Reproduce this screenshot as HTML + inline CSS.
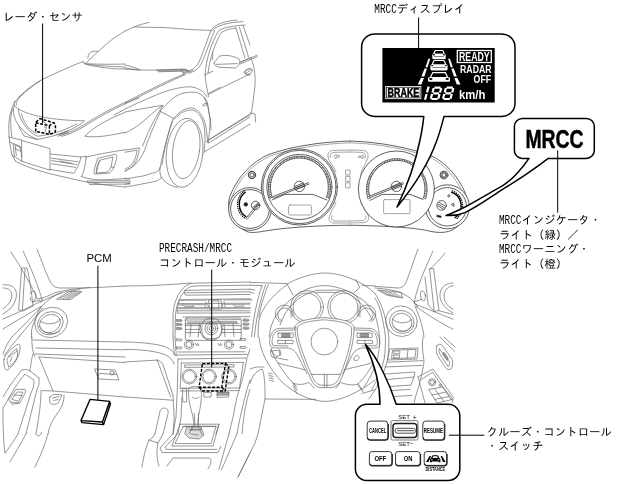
<!DOCTYPE html>
<html><head><meta charset="utf-8"><title>MRCC</title>
<style>
html,body{margin:0;padding:0;background:#fff;}
svg{display:block;will-change:transform;}
.t{font-family:"Liberation Mono","IPAGothic","Noto Sans CJK JP",monospace;font-size:11.4px;fill:#000;}
.m{font-family:"Liberation Mono",monospace;font-size:13.4px;fill:#000;}
.a{font-family:"Liberation Sans","IPAGothic",sans-serif;fill:#000;}
.g{fill:none;stroke:#686868;stroke-width:0.7;vector-effect:non-scaling-stroke;stroke-linecap:round;stroke-linejoin:round;}
.k{fill:none;stroke:#3a3a3a;stroke-width:0.8;vector-effect:non-scaling-stroke;stroke-linecap:round;stroke-linejoin:round;}
.g *,.k *{vector-effect:non-scaling-stroke;}
.b{fill:#fff;stroke:#000;stroke-width:1.5;stroke-linejoin:round;}
.l{fill:none;stroke:#000;stroke-width:1;}
.d{fill:none;stroke:#000;stroke-width:1.3;stroke-dasharray:3 1.5;}
</style></head>
<body>
<svg width="625" height="484" viewBox="0 0 625 484">
<rect width="625" height="484" fill="#fff"/>
<g class="g" transform="translate(0,0) scale(0.20000)">
<path d="M95,484 C130,450 170,420 210,398 C300,355 380,320 415,308"/>
<path d="M100,484 C130,455 165,428 200,405"/>
<path d="M415,308 L428,318 C470,275 520,228 570,190 L625,155"/>
<path d="M440,292 C436,270 455,248 490,258"/>
<path d="M420,318 C500,322 560,322 625,320"/>
<path d="M428,322 C500,338 570,346 625,345"/>
<path d="M440,322 C500,330 560,332 625,335"/>
</g>
<g class="g" transform="translate(125,0) scale(0.20000)">
<path d="M0,155 C40,135 80,120 120,112"/>
<path d="M50,135 L200,138 L330,148 L430,152"/>
<path d="M430,152 C415,190 395,250 370,310 C355,340 325,358 290,364"/>
<path d="M430,152 C450,120 500,105 560,100"/>
<path d="M440,150 C460,128 510,112 590,108"/>
<path d="M448,152 C430,195 405,265 382,318 C368,345 345,358 320,366"/>
<path d="M400,375 C405,300 430,215 470,152 C500,135 550,128 600,125"/>
<path d="M415,366 C422,300 448,220 482,162 C505,148 535,142 555,140"/>
<path d="M555,140 L600,290"/>
<path d="M572,136 L618,286"/>
<path d="M590,128 L625,225"/>
<path d="M445,315 L470,282 C490,274 535,274 570,295 C580,310 570,332 552,340 L470,336 C455,334 445,326 445,315 Z"/>
<path d="M456,322 L562,318"/>
<path d="M436,300 C440,280 440,270 436,262"/>
<path d="M400,374 L440,356"/>
<path d="M575,312 L625,290"/>
<path d="M598,360 C605,348 615,343 625,343"/>
<path d="M598,362 C605,372 615,376 625,375"/>
<path d="M400,375 C402,410 412,450 418,484"/>
<path d="M420,470 C500,430 560,402 625,370"/>
<path d="M0,325 C30,330 55,340 75,350"/>
<path d="M0,345 C60,352 150,352 280,348 L318,353"/>
<path d="M160,350 L300,345 L320,355 L170,359 Z" style="fill:#aaa"/>
<path d="M0,340 L70,350"/>
<path d="M280,348 L295,372"/>
<path d="M0,512 C60,482 150,434 250,389 L340,352"/>
<path d="M0,520 C60,490 150,442 250,396 L300,374"/>
<path d="M-55,575 C0,545 40,525 75,510 C125,488 175,465 225,450 C270,438 310,432 335,435 C365,440 390,455 400,470 L410,484"/>
</g>
<g class="g" transform="translate(0,97) scale(0.20000)">
<path d="M95,0 C80,15 70,30 72,42 C100,75 170,95 260,108 C320,115 380,120 420,118"/>
<path d="M100,0 C85,18 80,30 82,40"/>
<path d="M75,20 C55,60 42,110 44,160 C45,200 50,250 60,290 L78,322"/>
<path d="M62,60 C50,100 52,150 60,200"/>
<path d="M72,42 C60,70 70,110 95,145 C120,175 150,198 185,212 C240,205 300,185 350,165 C380,150 405,135 420,122"/>
<path d="M92,62 C95,100 115,140 150,172 C165,186 180,194 192,196 C240,190 290,176 330,160 L385,135"/>
<path d="M108,85 C115,120 135,150 160,170 L182,182"/>
<path d="M185,212 L120,195 L95,150"/>
<path d="M280,190 L330,172 M290,196 L345,176 M300,186 L340,170"/>
<path d="M625,27 C560,56 500,88 450,120 C410,147 360,176 300,192"/>
<path d="M625,35 C560,64 505,95 455,126 C415,152 365,182 310,197"/>
<path d="M625,77 C570,98 520,124 480,150 C455,167 435,182 425,196"/>
<path d="M425,196 C470,204 540,196 625,176"/>
<path d="M44,200 L110,216"/>
<path d="M50,226 L100,246 L110,300"/>
<path d="M110,218 L250,258 L250,366 L110,322 Z"/>
<path d="M250,285 L405,300 C400,330 385,360 368,382 L250,362"/>
<path d="M256,306 L392,324 M258,318 L385,338 M258,334 L378,352 M300,320 C320,326 340,326 360,332"/>
<path d="M75,240 L105,255 M75,258 L105,272 M76,244 L82,292 M66,236 L72,300"/>
<path d="M78,322 C150,360 250,385 330,402 C400,420 500,440 625,450"/>
<path d="M60,290 L110,322"/>
<path d="M405,300 L432,296"/>
<path d="M430,300 C500,284 570,272 625,264"/>
<path d="M430,300 C428,340 420,375 408,398"/>
<path d="M408,398 C440,410 480,416 530,414 L625,408"/>
<path d="M436,420 L641,418 L650,435 L450,438 Z"/>
<path d="M450,428 L640,426"/>
<path d="M490,306 L578,286 C586,290 586,300 582,312 L570,350 C562,368 552,378 545,380 L472,386 C468,380 470,365 475,350 Z"/>
<path d="M500,316 L565,300 L555,350 C548,365 540,374 535,376 L483,380 Z"/>
<path d="M482,380 C478,360 490,330 500,316"/>
<path d="M555,350 L570,352"/>
<path d="M222,150 L232,150 L226,176 M212,118 L232,135"/>
</g>
<g class="g" transform="translate(125,97) scale(0.20000)">
<ellipse cx="298" cy="279" rx="91" ry="173" transform="rotate(6 298 279)"/>
<ellipse cx="306" cy="263" rx="67" ry="146" transform="rotate(8 306 263)"/>
<path d="M240,112 C270,72 305,52 335,55 C370,60 395,100 405,150 C410,185 412,210 415,230"/>
<path d="M250,108 C280,75 310,62 338,66 C370,72 390,110 398,160 C402,200 400,240 395,276"/>
<path d="M236,120 C215,180 195,270 185,340"/>
<path d="M0,30 L70,5"/>
<path d="M0,75 C70,62 130,50 188,42"/>
<path d="M0,180 C50,160 100,115 150,70 L188,42"/>
<path d="M190,42 C165,80 125,150 100,215 L88,245"/>
<path d="M178,72 L245,108"/>
<path d="M178,72 C150,130 120,200 100,260 C85,300 60,335 35,350 L0,372"/>
<path d="M240,112 C215,180 190,280 176,350 C172,375 176,390 182,402"/>
<path d="M182,402 C195,425 225,445 262,452"/>
<path d="M176,352 C170,368 160,374 150,377 L90,395 L0,410"/>
<path d="M182,402 C170,415 160,420 150,422 L60,440 L0,450"/>
<path d="M0,265 L72,255 C70,280 62,310 48,335 C35,352 18,362 0,370"/>
<path d="M0,276 L60,266 C58,290 50,312 40,330 C30,345 15,354 0,360"/>
<path d="M0,405 L22,413 C28,420 26,428 20,432 L0,436"/>
<ellipse cx="400" cy="38" rx="12" ry="5" transform="rotate(-20 400 38)"/>
<path d="M395,0 C410,30 422,70 425,110 C426,150 420,200 415,228"/>
<path d="M415,216 L625,85"/>
<path d="M418,230 L625,100"/>
<path d="M395,276 L625,136"/>
<path d="M408,222 L625,90"/>
</g>
<g class="g" transform="translate(210,10) scale(0.20000)">
<path d="M205,240 C222,280 228,330 225,380 L212,484 L206,520"/>
<ellipse cx="192" cy="308" rx="20" ry="13" transform="rotate(-25 192 308)"/>
<path d="M178,318 L205,298"/>
<path d="M150,262 L235,226 M152,270 L236,233"/>
<path d="M200,515 L225,520 L228,560"/>
</g>
<g class="g" transform="translate(0,0) scale(1.00000)">
<path d="M160,111 C163,107.5 166,105 166.2,104.8 C169,101.5 172,99 175.5,96.5 C179,94.3 183,93 186.9,92.4 C190,92 193,92 196.2,92.4 C199,93.2 201.5,94.8 203.4,96.5 C205.3,98.5 206.7,100.5 207.5,102.7 C208.2,105.5 208.4,108 208.6,111 L210.6,121.3 L211,130"/>
<path d="M208.5,93.6 L220,87.4"/>
</g>
<!--CAR-->
<g class="k" transform="translate(225,140) scale(0.20000)">
<path d="M625,5 C480,10 340,30 220,72 C130,110 60,190 25,280 C5,340 30,420 110,458 C130,466 160,462 200,455 C300,438 450,428 625,426"/>
<path d="M625,14 C485,19 345,39 226,80 C138,118 70,195 36,282 C18,338 42,410 115,448" style="stroke:#808080;stroke-width:0.7"/>
<circle cx="125" cy="345" r="107" style="fill:#fff"/>
<circle cx="125" cy="345" r="97"/>
<path d="M103,260 A75,75 0 0 0 107,385" style="vector-effect:none;stroke-width:7;stroke:#000;stroke-linecap:butt"/>
<path d="M97,254 A84,84 0 0 0 101,392" style="vector-effect:none;stroke-width:6;stroke-dasharray:2 9;stroke:#000"/>
<circle cx="153" cy="327" r="21"/>
<path d="M104,392 L165,318 M111,396 L172,323"/>
<path d="M138,338 L166,314 M143,344 L171,320"/>
<circle cx="104" cy="322" r="9" style="fill:#111"/>
<circle cx="372" cy="235" r="190" style="fill:#fff"/>
<circle cx="372" cy="235" r="183"/>
<circle cx="372" cy="235" r="163"/>
<path d="M232,290 A150,150 0 1 1 512,290" style="vector-effect:none;stroke-width:8;stroke:#000;stroke-dasharray:2.5 6;stroke-linecap:butt"/>
<path d="M237,288 A145,145 0 1 1 507,288" />
<path d="M226,292 A156,156 0 1 1 518,292" />
<path d="M235,300 L300,272 L440,272 L510,300"/>
<path d="M240,283 L418,213 M243,290 L421,220"/>
<circle cx="372" cy="232" r="26"/>
<path d="M352,240 L395,222 M355,248 L398,230 M350,232 L390,215"/>
<rect x="318" y="325" width="114" height="50" rx="8" style="stroke:#808080;stroke-width:0.7"/>
<circle cx="135" cy="175" r="18"/>
<circle cx="135" cy="175" r="10"/>
<path d="M135,157 A18,18 0 1 1 134,157" style="vector-effect:none;stroke-width:5;stroke-dasharray:3 4"/>
<path d="M625,50 L535,52 C520,55 512,68 515,85 C520,110 545,130 555,160" style="stroke:#808080;stroke-width:0.7"/>
<path d="M625,60 L540,62 C528,65 524,75 526,88" style="stroke:#808080;stroke-width:0.7"/>
<path d="M545,82 L555,72 L555,78 L572,78 L572,86 L555,86 L555,92 Z" style="stroke:#808080;stroke-width:0.7"/>
<rect x="605" y="150" width="20" height="25" style="stroke:#808080;stroke-width:0.7"/>
<rect x="605" y="182" width="20" height="25" style="stroke:#808080;stroke-width:0.7"/>
<rect x="605" y="214" width="20" height="25" style="stroke:#808080;stroke-width:0.7"/>
<path d="M625,415 L540,415 C520,410 515,395 525,375 C535,350 550,330 555,310" style="stroke:#808080;stroke-width:0.7"/>
<path d="M625,405 L545,405 C532,400 530,390 535,378" style="stroke:#808080;stroke-width:0.7"/>
</g>
<g class="k" transform="translate(350,140) scale(0.20000)">
<path d="M0,5 C150,10 300,38 420,85 C500,130 560,210 585,290 C600,350 570,420 510,450 C480,465 440,465 400,456 C340,440 200,430 0,426"/>
<path d="M0,14 C150,19 295,46 412,92 C490,136 548,212 573,292" style="stroke:#808080;stroke-width:0.7"/>
<circle cx="487" cy="334" r="110" style="fill:#fff"/>
<circle cx="487" cy="334" r="96"/>
<path d="M506,260 A73,73 0 0 1 523,390" style="vector-effect:none;stroke-width:7;stroke:#000;stroke-linecap:butt"/>
<path d="M512,254 A82,82 0 0 1 530,396" style="vector-effect:none;stroke-width:6;stroke-dasharray:2 9;stroke:#000"/>
<circle cx="458" cy="327" r="24"/>
<path d="M441,320 L474,340 M438,328 L470,348 M446,312 L478,332"/>
<path d="M488,278 L496,272 M492,286 L500,280 M490,282 L498,276"/>
<path d="M508,322 L518,316 L520,330 Z"/>
<path d="M436,376 L456,381 L455,388 L435,383 Z" style="fill:#000"/>
<circle cx="232" cy="245" r="190" style="fill:#fff"/>
<path d="M96,292 A146,146 0 1 1 372,292" style="vector-effect:none;stroke-width:8;stroke:#000;stroke-dasharray:2.5 6;stroke-linecap:butt"/>
<path d="M101,290 A141,141 0 1 1 367,290"/>
<path d="M90,294 A152,152 0 1 1 378,294"/>
<path d="M100,302 L160,272 L300,272 L365,297"/>
<path d="M100,280 L265,212 M103,287 L268,219"/>
<circle cx="232" cy="232" r="26"/>
<path d="M212,240 L255,222 M215,248 L258,230 M210,232 L250,215"/>
<rect x="168" y="298" width="132" height="70" rx="4" style="stroke:#808080;stroke-width:0.7"/>
<circle cx="470" cy="175" r="20"/>
<circle cx="470" cy="175" r="10"/>
<path d="M470,160 A15,15 0 1 1 469,160" style="vector-effect:none;stroke-width:5;stroke-dasharray:3 4"/>
<path d="M0,50 L68,52 C88,56 94,70 88,92 C80,120 60,140 52,175" style="stroke:#808080;stroke-width:0.7"/>
<path d="M0,60 L62,62 C76,66 80,76 76,90" style="stroke:#808080;stroke-width:0.7"/>
<path d="M45,80 L62,80 L62,74 L72,84 L62,94 L62,88 L45,88 Z" style="stroke:#808080;stroke-width:0.7"/>
<path d="M0,415 L70,413 C92,408 98,394 90,376 C80,355 65,335 58,315" style="stroke:#808080;stroke-width:0.7"/>
<path d="M0,405 L64,403 C78,400 82,390 78,380" style="stroke:#808080;stroke-width:0.7"/>
</g>
<!--CLUSTER-->
<g class="g" transform="translate(0,240) scale(0.20000)">
<path d="M55,60 C100,130 150,210 185,290"/>
<path d="M115,55 C160,150 195,240 210,300"/>
<path d="M185,45 C210,110 235,180 255,215 C265,232 280,240 300,240 L400,240 C480,238 560,234 625,230"/>
<path d="M110,140 L135,140 C145,180 158,260 165,330 L115,355 L95,350 Z"/>
<path d="M125,145 L112,350"/>
<path d="M150,268 C158,254 172,252 178,264 C184,280 176,300 165,310 C155,308 150,298 152,288"/>
<path d="M165,310 L200,300"/>
<path d="M15,225 C40,222 62,226 75,245 C90,270 82,310 50,345 L15,370"/>
<path d="M15,240 C35,240 52,246 58,265 C64,290 50,320 15,345"/>
<path d="M185,295 C220,292 250,275 280,262 C330,248 400,242 450,238"/>
<path d="M200,312 C240,290 290,268 330,258 L400,248"/>
<path d="M15,395 C80,368 150,335 215,300"/>
<path d="M15,445 C80,405 150,365 205,332"/>
<path d="M60,484 C110,435 170,375 220,320 C245,295 275,275 305,264"/>
<path d="M95,484 C140,430 185,375 215,340"/>
<path d="M285,295 L345,258 L410,258 L355,297 Z"/>
<path d="M300,292 L358,262 M315,294 L372,262 M330,295 L386,262 M342,296 L398,262"/>
<ellipse cx="256" cy="412" rx="84" ry="74" transform="rotate(-25 256 412)"/>
<ellipse cx="252" cy="416" rx="66" ry="56" transform="rotate(-25 252 416)"/>
<ellipse cx="250" cy="418" rx="54" ry="44" transform="rotate(-25 250 418)"/>
<path d="M200,405 C225,425 275,425 300,400"/>
<path d="M196,430 C215,470 270,480 300,455"/>
<path d="M60,484 C40,510 25,540 15,570"/>
<path d="M95,484 C65,520 40,550 20,580"/>
<path d="M205,335 C185,370 165,420 158,450 L157,490"/>
</g>
<g class="g" transform="translate(0,387) scale(0.20000)">
<path d="M130,234 C100,290 70,340 50,375"/>
<path d="M90,234 C70,270 45,305 25,330"/>
<path d="M15,100 C14,200 18,280 25,330"/>
<path d="M180,234 C186,252 200,248 208,226"/>
<path d="M240,234 C225,290 200,350 175,400"/>
</g>
<g class="g" transform="translate(125,387) scale(0.20000)">
<path d="M275,186 L235,295 L440,295 L470,186"/>
<path d="M290,198 L250,283 L430,283 L455,198 Z"/>
<path d="M240,234 L175,305 L185,328 L465,328 L480,296"/>
<path d="M265,234 L200,300 L207,312 L458,312"/>
<path d="M310,200 L380,200 L395,240 L370,260 L320,255 L300,235 Z" style="fill:#ddd"/>
<path d="M320,215 L375,215 L385,240 M330,235 L365,240"/>
<path d="M346,130 L350,200 M368,130 L366,200"/>
<path d="M520,234 L470,410 M560,234 L482,415"/>
<path d="M625,330 L565,450"/>
<path d="M210,395 L240,355 L420,355 C432,360 436,374 415,410"/>
<path d="M150,234 C140,252 130,262 120,265 C105,300 92,350 85,400"/>
<path d="M190,234 L165,280 L120,265"/>
<path d="M165,280 C155,320 160,360 170,395"/>
</g>
<g class="g" transform="translate(0,0) scale(1.00000)">
<path d="M375,293.6 C380,300 384,312 386.9,324.8 C388.5,332 389.2,337 388.9,341.3 C388.8,348 388.5,353 387.9,357.9 C386.5,364 385,369 382.7,374.4 C380,381 377.5,386 374.5,391 L369,399"/>
<path d="M375,298 C379,304 381.5,313 383.6,324.8 C385,332 385.7,337 385.4,341.3 C385.3,348 385,353 384.4,357.9 C383,364 381.5,369 379.4,374.4 C377,380 374.5,385 371.5,390"/>
<path d="M375,314.4 C376.2,318 377,321 377.6,324.8 C379,331 379.8,336 379.6,341.3 C379.5,347 378.8,353 377.6,357.9 C376,364 374,369 371.4,374.4 C369,379 367,383 364,386.8"/>
</g>
<g class="g" transform="translate(125,240) scale(0.20000)">
<path d="M0,230 L130,228 L250,221 L330,215"/>
<path d="M240,484 L240,380 C242,330 255,280 290,242 C305,226 320,218 340,216 L625,210"/>
<path d="M250,484 L252,380 C255,335 268,290 298,256 C310,240 325,232 345,230 L625,226"/>
<path d="M300,252 L625,246 M303,264 L625,259"/>
<path d="M300,252 C295,260 296,270 303,276 L625,272"/>
<path d="M275,298 L625,294 M268,318 L625,316 M264,338 L625,338 M262,354 L625,354"/>
<path d="M275,298 C262,320 258,345 262,366 L625,364"/>
<path d="M290,324 L335,322 L345,332 L300,334 Z"/>
<path d="M540,322 L585,320 L595,330 L550,332 Z"/>
<path d="M420,300 L480,298 L485,345 L425,347 Z"/>
<path d="M435,305 L468,304 L470,340 L438,341 Z"/>
<path d="M405,310 C398,320 398,335 408,345 M495,308 C503,318 503,332 495,342"/>
<path d="M412,318 L418,340 M490,316 L486,338"/>
<path d="M290,385 L625,383"/>
<path d="M300,400 L575,398 M312,410 L560,408 M312,416 L560,414"/>
<rect x="255" y="398" width="30" height="10" rx="5"/>
<rect x="255" y="418" width="30" height="10" rx="5"/>
<rect x="255" y="438" width="30" height="10" rx="5"/>
<rect x="590" y="396" width="30" height="10" rx="5"/>
<rect x="590" y="416" width="30" height="10" rx="5"/>
<rect x="590" y="436" width="30" height="10" rx="5"/>
<circle cx="432" cy="442" r="32"/>
<circle cx="432" cy="442" r="22"/>
<circle cx="432" cy="442" r="11"/>
<path d="M330,420 L325,484 M372,420 L366,484 M495,420 L500,484 M540,420 L545,484"/>
<path d="M300,420 L570,418"/>
<path d="M385,430 C380,450 385,470 395,484 M480,430 C486,450 482,470 472,484"/>
<path d="M272,301 L405,300 M495,299 L625,298 M268,323 L405,322 M495,321 L625,320 M264,342 L625,341" style="stroke:#aaa;stroke-width:1.6"/>
<circle cx="431" cy="446" r="56"/>
<path d="M302,428 L378,428 M484,428 L581,428"/>
<path d="M302,447 L374,447 M488,447 L581,447"/>
<path d="M302,463 L378,463 M484,463 L581,463"/>
<rect x="302" y="390" width="279" height="112" rx="8"/>
<path d="M257,403 L283,403 M257,423 L283,423 M257,443 L283,443 M592,401 L618,401 M592,421 L618,421 M592,441 L618,441" style="stroke:#999;stroke-width:1.4"/>
</g>
<g class="g" transform="translate(250,240) scale(0.20000)">
<path d="M0,212 L100,215 L185,218"/>
<path d="M0,226 L60,228"/>
<path d="M60,226 C35,300 15,400 8,484"/>
<path d="M78,224 C50,300 30,400 22,484"/>
<path d="M92,222 C65,290 48,350 45,385"/>
<path d="M0,246 L25,250 M0,262 L20,266 M0,298 L12,300"/>
<path d="M40,484 C40,455 42,425 45,400 C60,340 110,275 200,212 C260,182 320,166 375,165 C450,166 530,195 600,245 L625,268"/>
<path d="M96,484 C98,460 102,440 110,420 C130,360 190,295 285,245 C320,232 350,228 375,228 C440,230 520,260 585,318 L625,372"/>
<path d="M185,220 L215,275 M530,198 L548,238 L520,264"/>
<path d="M150,425 C175,345 235,280 330,252 L445,250 C520,272 580,330 612,400"/>
<circle cx="285" cy="335" r="82"/>
<circle cx="285" cy="335" r="70"/>
<circle cx="470" cy="335" r="82"/>
<circle cx="470" cy="335" r="70"/>
<path d="M215,382 A45,45 0 1 0 150,410"/>
<path d="M205,385 A34,34 0 1 0 160,405"/>
<path d="M540,382 A45,45 0 1 1 605,410"/>
<path d="M550,385 A34,34 0 1 1 595,405"/>
<path d="M330,262 L440,262"/>
<path d="M560,226 L625,230"/>
</g>
<g class="g" transform="translate(375,240) scale(0.20000)">
<path d="M215,45 C195,100 175,160 158,205 C148,230 135,240 115,240 L0,232"/>
<path d="M290,55 C260,120 225,200 208,262 L196,310"/>
<path d="M350,65 C325,95 300,125 275,145"/>
<path d="M275,143 L293,143 L320,352 L298,358 Z"/>
<path d="M250,185 L266,325 L298,358"/>
<ellipse cx="240" cy="280" rx="12" ry="25" transform="rotate(-8 240 280)"/>
<path d="M196,310 L230,298"/>
<path d="M390,215 C365,215 340,225 328,255 C318,290 330,330 390,365"/>
<path d="M390,228 C370,230 352,245 346,270 C342,300 355,328 390,346"/>
<path d="M200,320 C260,345 330,372 390,396"/>
<path d="M205,332 C270,380 330,415 390,446"/>
<path d="M196,310 L212,334"/>
<path d="M320,354 L390,372"/>
<path d="M15,250 L130,262 L138,290 L62,276 Z"/>
<path d="M30,254 L80,280 M50,256 L98,283 M70,258 L116,286 M92,260 L132,288"/>
<path d="M0,240 C60,244 110,254 140,268 C170,284 190,300 200,320"/>
<path d="M200,330 C225,385 240,440 245,484"/>
<ellipse cx="132" cy="406" rx="80" ry="76" transform="rotate(20 132 406)"/>
<ellipse cx="134" cy="410" rx="62" ry="57" transform="rotate(20 134 410)"/>
<ellipse cx="135" cy="412" rx="50" ry="45" transform="rotate(20 135 412)"/>
<path d="M88,395 C110,420 160,420 182,398"/>
<path d="M92,430 C115,465 165,462 180,435"/>
</g>
<g class="g" transform="translate(0,337) scale(0.20000)">
<path d="M165,15 L625,25 M180,55 L625,64 M175,85 L625,100"/>
<path d="M160,0 C158,40 162,75 175,100"/>
<path d="M195,100 L625,128"/>
<path d="M195,100 L265,270 L625,300"/>
<path d="M475,160 L575,165 L595,215 L495,210 Z"/>
<path d="M488,196 L500,182 L582,188"/>
<circle cx="560" cy="180" r="10"/>
<path d="M20,112 C25,90 50,60 90,36 C100,34 102,45 100,60 C98,95 70,140 40,165 C25,170 18,150 20,112 Z"/>
<path d="M35,115 C40,95 60,72 85,58 L88,95 C80,118 62,140 45,150 Z"/>
<path d="M45,100 L85,70 M50,125 L60,100"/>
<path d="M15,300 C40,255 80,200 110,165 C125,160 140,162 150,170 L195,205"/>
<path d="M195,205 C198,230 192,250 185,262 L130,484"/>
<path d="M20,350 C50,290 90,225 125,185 L170,215 C172,240 165,260 155,280 L90,484"/>
<path d="M45,312 L80,262 L125,262 L128,275 L100,330 L62,336 Z"/>
<path d="M60,310 L86,275 L115,276 L95,320 Z"/>
<path d="M55,325 L95,330 M70,290 L110,292"/>
<path d="M150,170 C155,130 160,100 165,85"/>
<path d="M205,270 C205,330 195,400 180,484"/>
<path d="M208,268 L265,270"/>
<path d="M250,300 C258,288 275,284 310,290 L292,328 C280,338 262,340 252,332 C246,322 246,310 250,300 Z"/>
<path d="M262,305 L295,298 M268,318 L290,312"/>
<path d="M320,290 C322,320 310,350 285,385 C262,415 245,450 240,484"/>
<path d="M450,312 L548,322 L552,335 L518,438 L410,428 L405,418 Z M548,322 L512,425 L408,418 M512,425 L518,438" style="stroke:#000;stroke-width:1.4;fill:#fff"/>
</g>
<g class="g" transform="translate(125,337) scale(0.20000)">
<circle cx="320" cy="38" r="23"/>
<circle cx="320" cy="38" r="15"/>
<circle cx="520" cy="38" r="23"/>
<circle cx="520" cy="38" r="15"/>
<path d="M240,0 L246,92 M250,0 L256,86"/>
<path d="M265,75 L600,74 M256,90 L612,87"/>
<rect x="255" y="10" width="30" height="9" rx="4"/>
<rect x="255" y="50" width="30" height="9" rx="4"/>
<rect x="575" y="8" width="30" height="9" rx="4"/>
<rect x="575" y="48" width="30" height="9" rx="4"/>
<path d="M352,32 L358,44 L364,32 L370,44 M466,32 L472,44 L478,32 L484,44"/>
<path d="M390,0 C400,12 460,12 472,0"/>
<path d="M625,60 L612,100"/>
<path d="M265,110 L610,105 C600,170 580,240 560,300 L540,400 L520,484"/>
<path d="M265,110 L262,250 L255,400 L240,484"/>
<path d="M280,130 L592,127 M282,130 L276,256 M592,127 L572,255"/>
<path d="M300,140 L545,138 L545,150 L300,152 Z"/>
<path d="M276,256 L572,255 M276,270 L568,268"/>
<circle cx="322" cy="198" r="37"/><circle cx="322" cy="198" r="30"/>
<circle cx="420" cy="198" r="37"/><circle cx="420" cy="198" r="30"/>
<circle cx="520" cy="198" r="37"/><circle cx="520" cy="198" r="30"/>
<path d="M395,278 L432,278 L430,300 L397,300 Z"/>
<path d="M462,276 L520,275 L518,300 L462,302 Z"/>
<path d="M464,278 L518,277 L517,290 L464,291 Z" style="fill:#aaa"/>
<path d="M290,258 L308,258 L308,325 L290,325 Z"/>
<path d="M320,255 C330,245 365,245 378,252 C388,290 378,350 368,390 L364,440"/>
<path d="M320,255 C312,290 325,350 338,390 L346,440"/>
<path d="M335,300 C345,310 360,310 370,300"/>
<path d="M275,436 L470,436 L455,484 M290,448 L455,448"/>
<path d="M330,462 L380,462 M320,484 L340,450 M345,440 L330,462 M364,440 L380,462"/>
<path d="M285,300 L280,400 L265,484"/>
<path d="M625,215 C605,270 585,360 570,430 L560,484"/>
<path d="M625,262 C605,320 592,400 585,484"/>
<path d="M0,25 C70,26 140,32 190,45 C220,55 245,75 256,95"/>
<path d="M0,62 C80,62 150,70 200,88 C225,100 240,118 246,135"/>
<path d="M0,125 L150,116 C170,116 182,122 190,138 L240,292"/>
<path d="M160,112 L228,300"/>
<path d="M0,300 L240,316"/>
<path d="M240,292 L246,400 L240,484"/>
<path d="M150,484 L175,372 C180,356 195,352 208,358 C216,364 218,374 214,388 L190,484"/>
</g>
<g class="g" transform="translate(250,337) scale(0.20000)">
<path d="M45,0 C50,70 90,150 160,225 C230,290 310,322 380,322 C450,320 540,280 625,215"/>
<path d="M215,245 L235,285 M540,240 L565,275"/>
<path d="M0,160 L30,150 L70,150"/>
<path d="M0,232 C10,195 30,170 60,160 C72,180 76,240 75,310 L40,484 L25,530 L-60,700"/>
<path d="M75,310 L330,312"/>
<path d="M92,180 L112,186 M94,192 L114,198 M96,204 L116,210 M98,216 L118,222"/>
<path d="M560,282 L625,264"/>
</g>
<g class="g" transform="translate(260,300) scale(0.20000)">
<path d="M175,135 C180,112 215,95 320,88 C425,95 462,112 470,135 C472,190 455,270 410,385 C398,415 385,432 360,438 L300,438 C275,432 262,415 250,385 C200,270 172,190 175,135 Z" style="fill:#fff"/>
<circle cx="322" cy="208" r="67"/>
<path d="M186,140 C190,122 225,106 320,99 C415,106 452,122 458,140 C460,190 444,268 400,378 C390,405 378,420 356,426 L304,426 C282,420 270,405 260,378 C212,268 184,190 186,140 Z"/>
<path d="M322,372 L322,436 M335,372 L335,436"/>
<path d="M178,140 L95,142 C75,145 62,155 55,175 C45,200 45,225 58,236 C65,240 75,240 140,240 C160,242 175,255 190,280 L235,370"/>
<path d="M172,150 L100,152 C82,155 72,162 66,178 C58,200 58,220 66,228 L140,230"/>
<rect x="90" y="165" width="76" height="23" rx="3"/>
<rect x="110" y="168" width="40" height="17" style="fill:#999"/>
<rect x="88" y="202" width="78" height="16" rx="3"/>
<path d="M127,202 L127,218"/>
<path d="M470,140 L550,142 C570,145 583,155 590,175 C602,200 604,225 590,236 C582,240 572,242 510,240 C488,242 472,255 458,280 L415,370"/>
<path d="M474,150 L546,152 C564,155 574,162 580,178 C588,200 590,220 582,228 L510,230"/>
<rect x="485" y="165" width="76" height="23" rx="3"/>
<rect x="502" y="168" width="40" height="17" style="fill:#999"/>
<rect x="485" y="202" width="78" height="16" rx="3"/>
<path d="M524,202 L524,218"/>
<path d="M60,255 L100,250 L105,275 L82,282 Z M95,255 L98,272"/>
<path d="M470,290 C475,275 495,272 495,288 C495,302 480,308 472,302 Z"/>
<path d="M60,240 C50,250 50,270 60,285 L140,300"/>
<path d="M256,372 L402,372"/>
<path d="M55,245 C65,275 75,295 90,315 C110,350 140,390 165,415 L185,435"/>
<path d="M165,415 L185,452"/>
<path d="M165,415 C185,425 215,425 245,412 L270,440"/>
<path d="M490,420 C470,428 440,426 402,412 L380,440"/>
<path d="M490,420 C515,395 545,360 575,300"/>
<path d="M490,420 L515,452"/>
<path d="M90,315 C130,330 180,335 225,350"/>
<path d="M555,315 C515,330 465,335 420,350"/>
</g>
<g class="g" transform="translate(375,337) scale(0.20000)">
<path d="M75,60 L215,55 L210,110 L65,115 Z"/>
<path d="M90,66 L205,62 L200,104 L84,108 Z"/>
<rect x="96" y="70" width="28" height="14"/>
<rect x="94" y="90" width="28" height="14"/>
<path d="M165,64 L160,106"/>
<path d="M60,126 L240,118 M50,150 L236,142"/>
<path d="M40,186 L200,175 L195,200 L48,214"/>
<path d="M45,250 L180,240 L195,200 M48,270 L176,262"/>
<path d="M240,0 C232,40 240,80 245,120 C242,160 225,230 205,290 L195,330"/>
<path d="M60,300 L185,292"/>
<path d="M310,42 C318,34 328,34 336,42 L386,112 C390,130 388,150 380,160 C370,166 358,162 352,152 L312,92 C306,75 304,55 310,42 Z"/>
<path d="M322,60 L372,122 C375,135 372,145 366,148 L328,92 C320,80 318,68 322,60 Z"/>
<path d="M345,78 L366,106 L362,118 L340,90 Z" style="fill:#999"/>
<path d="M325,0 L398,72 M345,0 L400,50"/>
<path d="M215,200 L290,160 L392,302 L385,330"/>
<path d="M232,212 L288,176 L380,312"/>
<circle cx="286" cy="226" r="18"/>
<circle cx="286" cy="226" r="11"/>
<circle cx="326" cy="241" r="6"/>
<path d="M270,262 L340,250 L388,312 L312,330 Z"/>
<path d="M285,290 L352,276 M298,312 L368,298 M300,262 L345,322"/>
<path d="M215,200 L250,330"/>
</g>
<!--DASH-->
<g id="dashed">
<path class="d" d="M35.7,131.4 V124.5 Q35.7,122.6 37.2,121 L38.6,119.4 Q39.5,118.4 41,118.9 L53.5,122.8 Q55.4,123.4 55.4,125.5 V131 Q55.4,132.6 53.5,133.2 L49.4,134.3 L35.7,131.4 M35.7,122.8 L49.4,125.7 L53.5,122.8 M49.4,125.7 V134.3" style="stroke-width:1.5"/>
<path class="d" d="M202.4,363.7 L225.5,363.3 L221.8,387.2 L199.1,387.2 Z M225.5,363.3 L228.8,366.6 L225.1,391 L202.4,391 L199.1,387.2 M221.8,387.2 L225.1,391" style="stroke-width:1.4"/>
</g>
<!--BUBBLES-->
<g id="bubbles">
<path class="b" d="M374.6,33.9 H502 A13,13 0 0 1 515,46.9 V103.4 A13,13 0 0 1 502,116.4 H444 C442,124 440,132 437,140 C430,160 415,185 397,207 C410,180 417,155 420,140 C421.5,133 423,125 423.8,116.4 H374.6 A13,13 0 0 1 361.6,103.4 V46.9 A13,13 0 0 1 374.6,33.9 Z"/>
<rect x="382.4" y="48" width="112.3" height="54.5" fill="#000"/>
<path class="b" d="M522.4,118.4 H586.3 A8,8 0 0 1 594.3,126.4 V150.4 A8,8 0 0 1 586.3,158.4 H548.2 C541,164 534,169 526.4,174.2 C518,180 508,186 498.3,192.2 C488,199 477,207 465,212.6 C459,215 453,216 446,215.5 C452,213.5 458,210.5 465,207 C476,201 486,195 495.7,189.6 C503,186 510,181 516.2,174.2 C520,170 524,166 529,158.4 H522.4 A8,8 0 0 1 514.4,150.4 V126.4 A8,8 0 0 1 522.4,118.4 Z"/>
<path class="b" d="M367,404.3 H380 C380,385 375,365 365.5,344.6 C378,358 390,385 396.2,404.3 H448.3 A11.5,11.5 0 0 1 459.8,415.8 V469 A11.5,11.5 0 0 1 448.3,480.5 H367 A11.5,11.5 0 0 1 355.4,469 V415.8 A11.5,11.5 0 0 1 367,404.3 Z"/>
</g>
<g id="disp">
<rect x="457.3" y="50.5" width="34" height="12" fill="none" stroke="#fff" stroke-width="1.3"/>
<text class="a" x="459" y="60.6" font-size="11.9" font-weight="bold" style="fill:#fff" textLength="30.7" lengthAdjust="spacingAndGlyphs">READY</text>
<text class="a" x="460" y="72.9" font-size="11.6" font-weight="bold" style="fill:#fff" textLength="31.6" lengthAdjust="spacingAndGlyphs">RADAR</text>
<text class="a" x="473.6" y="82.5" font-size="11.2" font-weight="bold" style="fill:#fff" textLength="17.6" lengthAdjust="spacingAndGlyphs">OFF</text>
<rect x="385.3" y="86" width="36" height="13.1" fill="#fff"/>
<rect x="386.5" y="87.2" width="33.6" height="10.7" fill="none" stroke="#000" stroke-width="0.7"/>
<text class="a" x="387.5" y="96.7" font-size="11.9" font-weight="bold" textLength="31.8" lengthAdjust="spacingAndGlyphs" stroke="#000" stroke-width="0.5">BRAKE</text>
<text class="a" x="459" y="98.7" font-size="12" font-weight="bold" style="fill:#fff" textLength="26.4" lengthAdjust="spacingAndGlyphs">km/h</text>
<g fill="#fff" stroke="none">
<path d="M428.4,58.8h1.8l-2.6,8.4h-2.2z M424.6,68.6h2.4l-2.6,7.8h-3z M420.9,78h3l-2.4,6.6h-3.8z"/>
<path d="M449.9,58.8h-1.8l2.6,8.4h2.2z M453.7,68.6h-2.4l2.6,7.8h3z M457.4,78h-3l2.4,6.6h3.8z"/>
</g>
<g fill="#000" stroke="#fff" stroke-width="1.2" stroke-linejoin="round">
<path d="M433.6,54.4 L434.8,51.2 Q435.2,50.5 436,50.5 H442 Q442.8,50.5 443.2,51.2 L444.4,54.4 Z"/>
<path d="M432,65.2 L433.6,61.2 Q434,60.5 434.8,60.5 H443.2 Q444,60.5 444.4,61.2 L446,65.2 Z"/>
<path d="M430.4,77.6 L432.8,72.6 H445.4 L447.6,77.6 Z"/>
</g>
<g fill="#fff" stroke="none">
<rect x="432.3" y="53.8" width="13.4" height="5.4" rx="1.2"/>
<rect x="430.4" y="64.6" width="17.2" height="5.8" rx="1.3"/>
<rect x="428" y="77.2" width="22" height="4.6" rx="1.2"/>
</g>
<g fill="#000" stroke="none">
<ellipse cx="434" cy="54.7" rx="1.1" ry="0.7"/><ellipse cx="444" cy="54.7" rx="1.1" ry="0.7"/>
<rect x="434" y="56.2" width="10" height="0.5"/>
<ellipse cx="432.2" cy="65.6" rx="1.1" ry="0.7"/><ellipse cx="445.8" cy="65.6" rx="1.1" ry="0.7"/>
<rect x="432.4" y="67.2" width="13.2" height="0.5"/>
<ellipse cx="430.8" cy="79" rx="1.7" ry="0.9"/><ellipse cx="447.2" cy="79" rx="1.7" ry="0.9"/>
</g>

<g fill="none" stroke="#fff" stroke-width="2.2" stroke-linecap="butt">
<path d="M428.6,86.6 L427,92.4 M426.6,94 L425,99.8"/>
<path d="M434.4,87.6 H440.6 M441.2,88 L440,92.5 M439.6,94 L438.3,98.8 M437.6,99 H431.4 M430.8,98.8 L432.1,94 M432.5,92.5 L433.7,88 M433.2,93.3 H439"/>
<path d="M446.6,87.6 H452.8 M453.4,88 L452.2,92.5 M451.8,94 L450.5,98.8 M449.8,99 H443.6 M443,98.8 L444.3,94 M444.7,92.5 L445.9,88 M445.4,93.3 H451.2"/>
</g>
</g>
<g id="sw">
<g fill="#fff" stroke="#222" stroke-width="0.9">
<rect x="367.2" y="421.1" width="20.6" height="18.7" rx="3"/>
<rect x="391" y="420.6" width="27" height="19.4" rx="1.5" stroke-width="0.6"/>
<rect x="393" y="423.4" width="23.8" height="14.2" rx="3" stroke-width="1.5"/>
<rect x="395.2" y="428.3" width="20.2" height="4.9" rx="2" stroke-width="0.8"/>
<path d="M397,430.7H414" stroke-width="0.8"/>
<rect x="422.8" y="421.1" width="21.5" height="18.7" rx="3"/>
<rect x="369.4" y="451.6" width="22.4" height="13.8" rx="2.5"/>
<rect x="395.5" y="451.6" width="24.6" height="13.8" rx="2.5"/>
<rect x="424.2" y="451.6" width="22.4" height="13.8" rx="2.5"/>
</g>
<path d="M367.4,437.5 Q367.8,440.3 370.5,440.3 H385 Q388.3,440.3 388.3,437 V424 M423,437.5 Q423.4,440.3 426,440.3 H441.5 Q444.8,440.3 444.8,437 V424 M369.6,463.5 Q370,465.9 372.4,465.9 H389.5 Q392.3,465.9 392.3,463 V454 M395.7,463.5 Q396.1,465.9 398.5,465.9 H417.8 Q420.6,465.9 420.6,463 V454 M424.4,463.5 Q424.8,465.9 427.2,465.9 H444.3 Q447.1,465.9 447.1,463 V454" fill="none" stroke="#222" stroke-width="1.1"/>
<text class="a" x="369" y="433.2" font-size="7" font-weight="bold" textLength="17.4" lengthAdjust="spacingAndGlyphs">CANCEL</text>
<text class="a" x="423.8" y="433.2" font-size="7" font-weight="bold" textLength="19.2" lengthAdjust="spacingAndGlyphs">RESUME</text>
<text class="a" x="374.4" y="461.3" font-size="6.8" font-weight="bold" textLength="11.8" lengthAdjust="spacingAndGlyphs">OFF</text>
<text class="a" x="403.8" y="461.3" font-size="6.8" font-weight="bold" textLength="8.6" lengthAdjust="spacingAndGlyphs">ON</text>
<text class="a" x="398.2" y="419.4" font-size="6" style="fill:#111">SET</text>
<text class="a" x="412.8" y="419.6" font-size="6.5" style="fill:#111">+</text>
<text class="a" x="398.2" y="445.6" font-size="6" style="fill:#111">SET</text>
<text class="a" x="409.8" y="445.6" font-size="6.5" style="fill:#111">−</text>
<text class="a" x="425.5" y="470.9" font-size="4.6" font-weight="bold" textLength="19.7" lengthAdjust="spacingAndGlyphs">DISTANCE</text>
<g fill="#000">
<path d="M426,462 L429.6,455.9 H431 L428.6,462 Z M445.6,462 L442,455.9 H440.6 L443,462 Z"/>
<path d="M430,462.3 V459.4 Q430,458.4 431,458.2 L432,455.9 Q432.3,455.2 433.1,455.2 H437.3 Q438.1,455.2 438.4,455.9 L439.4,458.2 Q440.4,458.4 440.4,459.4 V462.3 H438.4 V461.4 H432 V462.3 Z"/>
<path d="M432.5,458 L433.2,456.2 H437.2 L437.9,458 Z M431,459.4h1.8v0.9h-1.8z M437.6,459.4h1.8v0.9h-1.8z" fill="#fff"/>
</g>
</g>
<!--LABELS-->
<g id="labels">
<path class="l" d="M42.6,23.5V123 M97.9,265.7V400 M211.7,269.6V367.4 M418.6,17.4V48 M557.7,150.4V212.6 M448.9,435.2H484.4"/>
<text class="t" x="3.1" y="21">レーダ・センサ</text>
<text class="m" x="374.3" y="13.2" textLength="22.5" lengthAdjust="spacingAndGlyphs">MRCC</text><text class="t" x="396.8" y="13.2">ディスプレイ</text>
<text class="m" x="498.9" y="224" textLength="22.5" lengthAdjust="spacingAndGlyphs">MRCC</text><text class="t" x="521.4" y="224">インジケータ・</text>
<text class="t" x="498.9" y="238.5">ライト（緑）／</text>
<text class="m" x="498.9" y="253" textLength="22.5" lengthAdjust="spacingAndGlyphs">MRCC</text><text class="t" x="521.4" y="253">ワーニング・</text>
<text class="t" x="498.9" y="267.5">ライト（橙）</text>
<text class="a" x="86.5" y="262" font-size="11.4">PCM</text>
<text class="m" x="159" y="252" textLength="73" lengthAdjust="spacingAndGlyphs">PRECRASH/MRCC</text>
<text class="t" x="159" y="266.8">コントロール・モジュール</text>
<text class="t" x="486.5" y="436">クルーズ・コントロール</text>
<text class="t" x="486.5" y="449.7">・スイッチ</text>
<text class="a" x="525.4" y="147.6" font-size="26.4" font-weight="bold" textLength="58.2" lengthAdjust="spacingAndGlyphs" stroke="#000" stroke-width="0.5">MRCC</text>
</g>
</svg>
</body></html>
